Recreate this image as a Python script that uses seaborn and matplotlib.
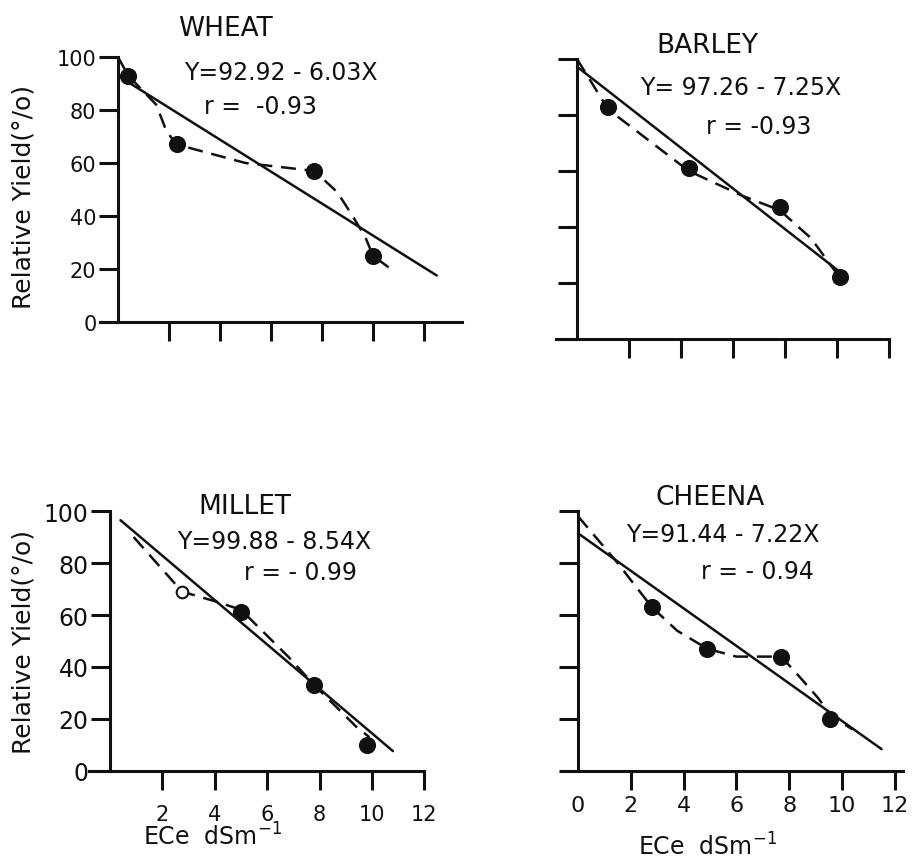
import numpy as np
import matplotlib
matplotlib.use("Agg")
import matplotlib.pyplot as plt
import seaborn as sns

# ---- data ----
crops = ["WHEAT", "BARLEY", "MILLET", "CHEENA"]
equations = ["Y=92.92 - 6.03X", "Y= 97.26 - 7.25X", "Y=99.88 - 8.54X", "Y=91.44 - 7.22X"]
r_labels = ["r =  -0.93", "r = -0.93", "r = - 0.99", "r = - 0.94"]
intercepts = [92.92, 97.26, 99.88, 91.44]
slopes = [-6.03, -7.25, -8.54, -7.22]
fit_x_start = [0.3, 0.0, 0.4, 0.0]
fit_x_end = [12.5, 10.2, 10.8, 11.5]

# observed points
wheat_x = [0.4, 2.3, 7.7, 10.0]
wheat_y = [93, 67, 57, 25]
barley_x = [1.2, 4.3, 7.8, 10.1]
barley_y = [83, 61, 47, 22]
millet_x = [2.75, 5.0, 7.8, 9.8]
millet_y = [69, 61, 33, 10]
cheena_x = [2.8, 4.9, 7.7, 9.55]
cheena_y = [63, 47, 44, 20]

# hand-drawn dashed curves
wheat_curve_x = [0.0, 0.4, 1.5, 1.9, 2.3, 5.0, 7.7, 8.6, 9.2, 9.7, 10.0, 10.7]
wheat_curve_y = [100, 93, 82, 72, 67, 60, 57, 49, 40, 32, 25, 20]
barley_curve_x = [0.0, 1.2, 4.3, 6.4, 7.8, 9.0, 10.1]
barley_curve_y = [100, 82, 60, 51, 46, 36, 22]
millet_curve_x = [0.9, 2.75, 4.1, 5.0, 6.8, 7.8, 9.4, 9.9]
millet_curve_y = [90, 69, 65, 62, 44, 33, 17, 13]
cheena_curve_x = [0.0, 1.5, 2.8, 3.75, 4.9, 6.0, 7.7, 8.5, 9.1, 9.6, 10.4]
cheena_curve_y = [98, 80, 63, 54, 47, 44, 44, 35, 28, 21, 16]

y_ticks = [0, 20, 40, 60, 80, 100]
x_ticks = [2, 4, 6, 8, 10, 12]
cheena_x_ticks = [0, 2, 4, 6, 8, 10, 12]

sns.set_style("ticks")
plt.rcParams["font.family"] = ["DejaVu Sans"]

W, H = 914, 862
fig = plt.figure(figsize=(W / 100, H / 100), dpi=100)


def add_panel(ox, oy, sx, sy, xlim, ylim):
    # place axes so that data origin lands on pixel (ox, oy)
    left = ox + xlim[0] * sx
    right = ox + xlim[1] * sx
    bottom = oy - ylim[0] * sy
    top = oy - ylim[1] * sy
    ax = fig.add_axes([left / W, 1 - bottom / H, (right - left) / W, (bottom - top) / H])
    ax.set_xlim(*xlim)
    ax.set_ylim(*ylim)
    ax.patch.set_alpha(0)
    return ax


panels = [
    dict(ax=add_panel(118, 323, 25.5, 2.65, (-1, 13.5), (-8, 108)),
         px=wheat_x, py=wheat_y, cx=wheat_curve_x, cy=wheat_curve_y,
         xbounds=(-0.7, 13.5), title_xy=(4.2, 111), eq_xy=(6.4, 94.5), r_xy=(5.6, 81.5)),
    dict(ax=add_panel(577, 340, 26, 2.8, (-1, 12.8), (-8, 108)),
         px=barley_x, py=barley_y, cx=barley_curve_x, cy=barley_curve_y,
         xbounds=(-0.8, 12.0), title_xy=(5.0, 105), eq_xy=(6.3, 90), r_xy=(7.0, 76)),
    dict(ax=add_panel(110, 772, 26.2, 2.6, (-1, 13.5), (-8, 108)),
         px=millet_x, py=millet_y, cx=millet_curve_x, cy=millet_curve_y,
         xbounds=(-0.8, 12.0), title_xy=(5.15, 102), eq_xy=(6.25, 88.5), r_xy=(7.25, 76.5)),
    dict(ax=add_panel(578, 772, 26.4, 2.6, (-1, 12.7), (-8, 108)),
         px=cheena_x, py=cheena_y, cx=cheena_curve_x, cy=cheena_curve_y,
         xbounds=(-0.6, 12.3), title_xy=(5.0, 105.5), eq_xy=(5.5, 91), r_xy=(6.8, 77)),
]

ink = "#111111"
for i, p in enumerate(panels):
    ax = p["ax"]

    # axes drawn like the hand-ruled original
    for side in ["top", "right"]:
        ax.spines[side].set_visible(False)
    ax.spines["left"].set_position(("data", 0))
    ax.spines["bottom"].set_position(("data", 0))
    ax.spines["left"].set_bounds(0, 100)
    ax.spines["bottom"].set_bounds(*p["xbounds"])
    for side in ["left", "bottom"]:
        ax.spines[side].set_linewidth(2.2)
        ax.spines[side].set_color(ink)
    ax.tick_params(direction="out", length=14, width=2.2, color=ink, labelcolor=ink)

    # dashed curve through the observations
    sns.lineplot(x=p["cx"], y=p["cy"], ax=ax, color=ink, lw=1.8,
                 linestyle=(0, (6, 3.5)), estimator=None, sort=False)
    # fitted regression line
    fx = np.array([fit_x_start[i], fit_x_end[i]])
    sns.lineplot(x=fx, y=intercepts[i] + slopes[i] * fx, ax=ax, color=ink, lw=1.8,
                 estimator=None, sort=False)
    # observations
    if crops[i] == "MILLET":
        sns.scatterplot(x=p["px"][:1], y=p["py"][:1], ax=ax, s=70, color="white",
                        edgecolor=ink, linewidth=1.5, zorder=5)
        sns.scatterplot(x=p["px"][1:], y=p["py"][1:], ax=ax, s=130, color=ink,
                        edgecolor=ink, zorder=5)
    else:
        sns.scatterplot(x=p["px"], y=p["py"], ax=ax, s=130, color=ink,
                        edgecolor=ink, zorder=5)

    ax.text(*p["title_xy"], crops[i], ha="center", va="center", fontsize=19, color=ink)
    ax.text(*p["eq_xy"], equations[i], ha="center", va="center", fontsize=17, color=ink)
    ax.text(*p["r_xy"], r_labels[i], ha="center", va="center", fontsize=17, color=ink)

    ax.set_yticks(y_ticks)
    ax.set_xticks(cheena_x_ticks if crops[i] == "CHEENA" else x_ticks)

# tick labels and axis titles only where the original shows them
wheat_ax, barley_ax, millet_ax, cheena_ax = [p["ax"] for p in panels]

wheat_ax.set_xticklabels([])
wheat_ax.tick_params(axis="y", labelsize=15, pad=1.5)
barley_ax.set_xticklabels([])
barley_ax.set_yticklabels([])
millet_ax.tick_params(axis="y", labelsize=17, pad=1.5)
millet_ax.tick_params(axis="x", labelsize=15, pad=10)
cheena_ax.set_yticklabels([])
cheena_ax.tick_params(axis="x", labelsize=16, pad=3)
cheena_ax.xaxis.get_major_ticks()[0].tick1line.set_visible(False)

ylab = "Relative Yield(°/o)"
for ax, lx, ly in [(wheat_ax, -3.7, 47.5), (millet_ax, -3.3, 50)]:
    ax.set_ylabel(ylab, fontsize=18, color=ink, va="center", ha="center")
    ax.yaxis.set_label_coords(lx, ly, transform=ax.transData)

xlab = "ECe  dSm$^{-1}$"
for ax, lx, ly in [(millet_ax, 3.9, -25), (cheena_ax, 4.9, -29)]:
    ax.set_xlabel(xlab, fontsize=17, color=ink, va="center", ha="center")
    ax.xaxis.set_label_coords(lx, ly, transform=ax.transData)

fig.savefig("out.png", dpi=100, facecolor="white")
